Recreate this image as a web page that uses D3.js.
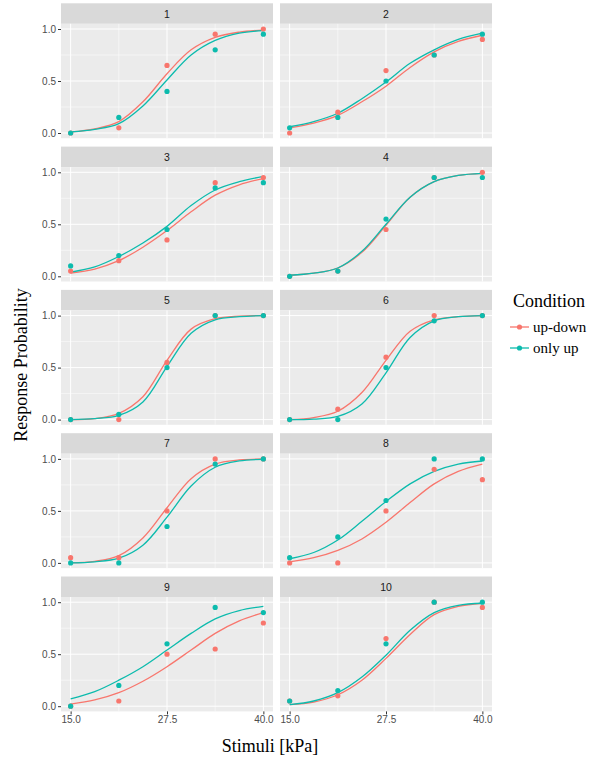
<!DOCTYPE html>
<html>
<head>
<meta charset="utf-8">
<script src="https://cdn.jsdelivr.net/npm/d3@7"></script>
<style>
  body { margin: 0; background: #fff; }
  svg { display: block; }
</style>
</head>
<body>
<svg id="chart" width="602" height="761"></svg>
<script>
// Data
var panels = ["1", "2", "3", "4", "5", "6", "7", "8", "9", "10"];
var conditions = ["up-down", "only up"];
var stimuli = [15, 21.25, 27.5, 33.75, 40];
var xTicks = [15, 27.5, 40];
var yTicks = [0, 0.5, 1];

// observed response probabilities per panel at each stimulus
var upDownObs = [
  [0, 0.05, 0.65, 0.95, 1.0],
  [0, 0.2, 0.6, 0.75, 0.9],
  [0.05, 0.15, 0.35, 0.9, 0.95],
  [0, 0.05, 0.45, 0.95, 1.0],
  [0, 0, 0.55, 1.0, 1.0],
  [0, 0.1, 0.6, 1.0, 1.0],
  [0.05, 0.05, 0.5, 1.0, 1.0],
  [0, 0, 0.5, 0.9, 0.8],
  [0, 0.05, 0.5, 0.55, 0.8],
  [0.05, 0.1, 0.65, 1.0, 0.95]
];
var onlyUpObs = [
  [0, 0.15, 0.4, 0.8, 0.95],
  [0.05, 0.15, 0.5, 0.75, 0.95],
  [0.1, 0.2, 0.45, 0.85, 0.9],
  [0, 0.05, 0.55, 0.95, 0.95],
  [0, 0.05, 0.5, 1.0, 1.0],
  [0, 0, 0.5, 0.95, 1.0],
  [0, 0, 0.35, 0.95, 1.0],
  [0.05, 0.25, 0.6, 1.0, 1.0],
  [0, 0.2, 0.6, 0.95, 0.9],
  [0.05, 0.15, 0.6, 1.0, 1.0]
];

// fitted curves, read at these stimulus values
var curveX = [15, 18.125, 21.25, 24.375, 27.5, 30.625, 33.75, 36.875, 40];
var upDownFit = [
  [0.01, 0.04, 0.11, 0.30, 0.57, 0.80, 0.92, 0.97, 0.99],
  [0.05, 0.095, 0.17, 0.30, 0.45, 0.63, 0.78, 0.88, 0.94],
  [0.03, 0.07, 0.15, 0.28, 0.44, 0.62, 0.78, 0.88, 0.94],
  [0.01, 0.03, 0.08, 0.23, 0.49, 0.76, 0.91, 0.97, 0.99],
  [0.0, 0.01, 0.06, 0.22, 0.57, 0.87, 0.97, 0.995, 1.0],
  [0.0, 0.02, 0.08, 0.26, 0.57, 0.85, 0.96, 0.99, 1.0],
  [0.0, 0.015, 0.07, 0.24, 0.53, 0.81, 0.95, 0.99, 1.0],
  [0.01, 0.05, 0.12, 0.23, 0.39, 0.58, 0.76, 0.88, 0.95],
  [0.02, 0.06, 0.13, 0.24, 0.38, 0.54, 0.70, 0.82, 0.90],
  [0.015, 0.04, 0.11, 0.25, 0.46, 0.69, 0.88, 0.96, 0.99]
];
var onlyUpFit = [
  [0.01, 0.035, 0.09, 0.26, 0.51, 0.75, 0.89, 0.96, 0.985],
  [0.06, 0.11, 0.19, 0.33, 0.49, 0.67, 0.80, 0.90, 0.96],
  [0.04, 0.09, 0.19, 0.32, 0.48, 0.68, 0.83, 0.91, 0.96],
  [0.01, 0.03, 0.08, 0.24, 0.50, 0.76, 0.91, 0.97, 0.99],
  [0.0, 0.01, 0.04, 0.17, 0.51, 0.83, 0.96, 0.99, 1.0],
  [0.0, 0.005, 0.03, 0.15, 0.45, 0.79, 0.95, 0.99, 1.0],
  [0.0, 0.01, 0.045, 0.17, 0.44, 0.74, 0.92, 0.98, 0.995],
  [0.04, 0.10, 0.22, 0.40, 0.59, 0.76, 0.88, 0.95, 0.98],
  [0.07, 0.14, 0.25, 0.38, 0.54, 0.70, 0.84, 0.92, 0.96],
  [0.015, 0.05, 0.13, 0.28, 0.49, 0.73, 0.90, 0.97, 0.99]
];

var colors = ["#F8766D", "#0CBBAD"];

var svg = d3.select("#chart");

var panelW = 212, panelH = 114.4, stripH = 20.5;
var colLeft = [61, 280];
var firstTop = 23.8, rowStep = 143.3;

var x = d3.scaleLinear().domain([13.75, 41.25]).range([0, panelW]);
var y = d3.scaleLinear().domain([-0.05, 1.05]).range([panelH, 0]);

var line = d3.line()
    .x(function(d) { return x(d[0]); })
    .y(function(d) { return y(d[1]); })
    .curve(d3.curveCatmullRom.alpha(0.5));

panels.forEach(function(name, i) {
    var col = i % 2, row = Math.floor(i / 2);
    var g = svg.append("g")
        .attr("transform", "translate(" + colLeft[col] + "," + (firstTop + row * rowStep) + ")");

    // strip
    g.append("rect")
        .attr("x", 0).attr("y", -stripH)
        .attr("width", panelW).attr("height", stripH)
        .attr("fill", "#d9d9d9");
    g.append("text")
        .attr("x", panelW / 2).attr("y", -stripH / 2 + 4)
        .attr("text-anchor", "middle")
        .attr("font-family", "Liberation Sans, Arial, sans-serif")
        .attr("font-size", 10.5)
        .attr("fill", "#1a1a1a")
        .text(name);

    // panel background + grid
    g.append("rect")
        .attr("width", panelW).attr("height", panelH)
        .attr("fill", "#ebebeb");
    var minorX = [21.25, 33.75], minorY = [0.25, 0.75];
    g.selectAll(".mx").data(minorX).enter().append("line")
        .attr("x1", x).attr("x2", x).attr("y1", 0).attr("y2", panelH)
        .attr("stroke", "#fff").attr("stroke-width", 0.5);
    g.selectAll(".my").data(minorY).enter().append("line")
        .attr("y1", y).attr("y2", y).attr("x1", 0).attr("x2", panelW)
        .attr("stroke", "#fff").attr("stroke-width", 0.5);
    g.selectAll(".gx").data(xTicks).enter().append("line")
        .attr("x1", x).attr("x2", x).attr("y1", 0).attr("y2", panelH)
        .attr("stroke", "#fff").attr("stroke-width", 1);
    g.selectAll(".gy").data(yTicks).enter().append("line")
        .attr("y1", y).attr("y2", y).attr("x1", 0).attr("x2", panelW)
        .attr("stroke", "#fff").attr("stroke-width", 1);

    // y axis on left column
    if (col === 0) {
        var ya = g.append("g")
            .call(d3.axisLeft(y).tickValues(yTicks).tickFormat(d3.format(".1f")).tickSize(3).tickPadding(2));
        ya.select(".domain").remove();
        ya.selectAll("line").attr("stroke", "#333");
        ya.selectAll("text")
            .attr("font-family", "Liberation Sans, Arial, sans-serif")
            .attr("font-size", 10).attr("fill", "#4d4d4d");
    }
    // x axis on bottom row
    if (row === 4) {
        var xa = g.append("g")
            .attr("transform", "translate(0," + panelH + ")")
            .call(d3.axisBottom(x).tickValues(xTicks).tickFormat(d3.format(".1f")).tickSize(3).tickPadding(2));
        xa.select(".domain").remove();
        xa.selectAll("line").attr("stroke", "#333");
        xa.selectAll("text")
            .attr("font-family", "Liberation Sans, Arial, sans-serif")
            .attr("font-size", 10).attr("fill", "#4d4d4d");
    }

    var obs = [upDownObs[i], onlyUpObs[i]];
    var fits = [upDownFit[i], onlyUpFit[i]];

    // fitted lines
    fits.forEach(function(f, c) {
        g.append("path")
            .datum(curveX.map(function(v, k) { return [v, f[k]]; }))
            .attr("d", line)
            .attr("fill", "none")
            .attr("stroke", colors[c])
            .attr("stroke-width", 1.3);
    });
    // points
    obs.forEach(function(o, c) {
        g.selectAll(".p" + c)
            .data(stimuli.map(function(v, k) { return [v, o[k]]; }))
            .enter().append("circle")
            .attr("cx", function(d) { return x(d[0]); })
            .attr("cy", function(d) { return y(d[1]); })
            .attr("r", 2.6)
            .attr("fill", colors[c]);
    });
});

// axis titles
svg.append("text")
    .attr("x", 270).attr("y", 752)
    .attr("text-anchor", "middle")
    .attr("font-family", "Liberation Serif, Times New Roman, serif")
    .attr("font-size", 18)
    .attr("fill", "#000")
    .text("Stimuli [kPa]");
svg.append("text")
    .attr("transform", "translate(27,365) rotate(-90)")
    .attr("text-anchor", "middle")
    .attr("font-family", "Liberation Serif, Times New Roman, serif")
    .attr("font-size", 18)
    .attr("fill", "#000")
    .text("Response Probability");

// legend
var leg = svg.append("g").attr("transform", "translate(510,0)");
leg.append("text")
    .attr("x", 3).attr("y", 307)
    .attr("font-family", "Liberation Serif, Times New Roman, serif")
    .attr("font-size", 18)
    .attr("fill", "#000")
    .text("Condition");
conditions.forEach(function(c, k) {
    var cy = 327 + k * 21;
    leg.append("line")
        .attr("x1", 0).attr("x2", 19).attr("y1", cy).attr("y2", cy)
        .attr("stroke", colors[k]).attr("stroke-width", 1.3);
    leg.append("circle")
        .attr("cx", 9.5).attr("cy", cy).attr("r", 2.6)
        .attr("fill", colors[k]);
    leg.append("text")
        .attr("x", 23).attr("y", cy + 4.5)
        .attr("font-family", "Liberation Serif, Times New Roman, serif")
        .attr("font-size", 15)
        .attr("fill", "#000")
        .text(c);
});
</script>
</body>
</html>
